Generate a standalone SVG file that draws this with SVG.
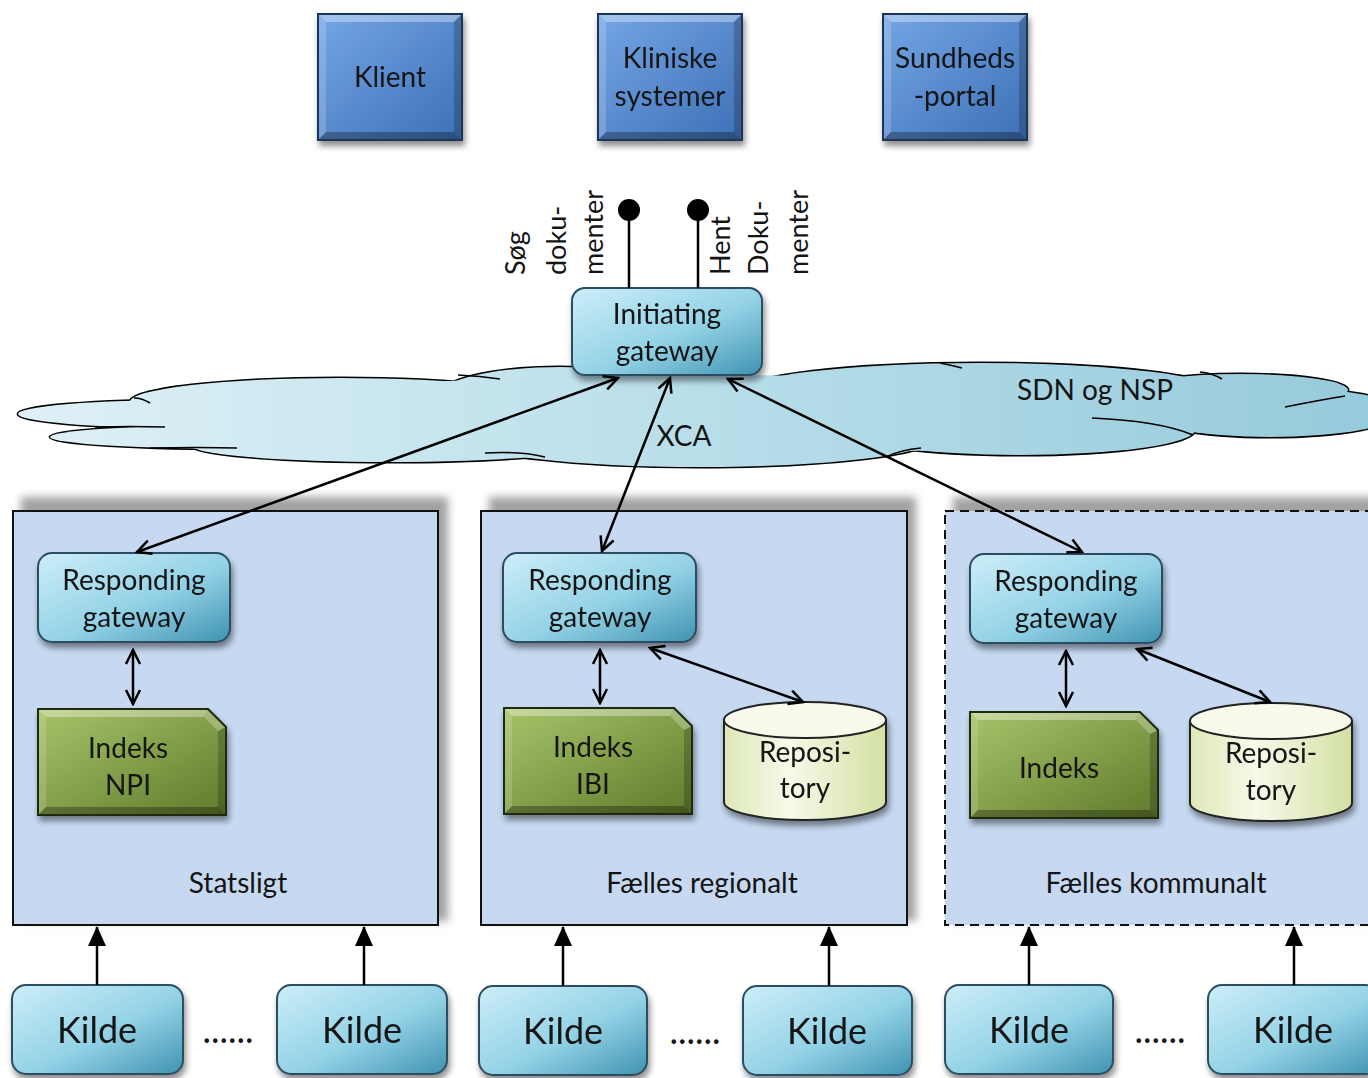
<svg xmlns="http://www.w3.org/2000/svg" xmlns:xlink="http://www.w3.org/1999/xlink" width="1368" height="1078" viewBox="0 0 1368 1078">
  <style>
    .t { font-family: Lato, "Liberation Sans", sans-serif; font-size: 28px; fill: #141414; text-anchor: middle; }
    .tl { font-family: Lato, "Liberation Sans", sans-serif; font-size: 27px; fill: #141414; text-anchor: start; }
    .k { font-family: Lato, "Liberation Sans", sans-serif; font-size: 36px; fill: #141414; text-anchor: middle; }
    .conn { stroke: #000; stroke-width: 2.5; fill: none; }
    .bi { marker-start: url(#open); marker-end: url(#open); }
    .up { marker-end: url(#tri); }
    .gw { fill: url(#gwGrad); stroke: #2b4d62; stroke-width: 2; }
    .box { fill: #c6d9f1; stroke: #111; stroke-width: 2; }
  </style>
  <defs>
    <linearGradient id="blueGrad" x1="0" y1="0" x2="1" y2="1">
      <stop offset="0" stop-color="#74a6e6"/>
      <stop offset="1" stop-color="#3d70b5"/>
    </linearGradient>
    <linearGradient id="gwGrad" x1="0" y1="0" x2="1" y2="1">
      <stop offset="0" stop-color="#cdeef8"/>
      <stop offset="0.55" stop-color="#93d2e6"/>
      <stop offset="1" stop-color="#3f93b1"/>
    </linearGradient>
    <linearGradient id="greenGrad" x1="0" y1="0" x2="1" y2="1">
      <stop offset="0" stop-color="#a8c46a"/>
      <stop offset="1" stop-color="#5f7b2b"/>
    </linearGradient>
    <linearGradient id="repoGrad" x1="0" y1="0" x2="1" y2="0">
      <stop offset="0" stop-color="#dde8b6"/>
      <stop offset="0.4" stop-color="#f6faea"/>
      <stop offset="1" stop-color="#d3e0a2"/>
    </linearGradient>
    <linearGradient id="cloudGrad" gradientUnits="userSpaceOnUse" x1="0" y1="0" x2="1368" y2="0">
      <stop offset="0" stop-color="#e0f1f6"/>
      <stop offset="0.5" stop-color="#b9dfea"/>
      <stop offset="1" stop-color="#97cadb"/>
    </linearGradient>
    <filter id="sh" x="-20%" y="-20%" width="140%" height="150%">
      <feGaussianBlur in="SourceAlpha" stdDeviation="3"/>
      <feOffset dx="2" dy="5"/>
      <feComponentTransfer><feFuncA type="linear" slope="0.45"/></feComponentTransfer>
      <feMerge><feMergeNode/><feMergeNode in="SourceGraphic"/></feMerge>
    </filter>
    <filter id="blur" x="-10%" y="-10%" width="120%" height="120%">
      <feGaussianBlur stdDeviation="4"/>
    </filter>
    <marker id="open" viewBox="0 0 18 18" refX="16" refY="9" markerWidth="18" markerHeight="18" markerUnits="userSpaceOnUse" orient="auto-start-reverse">
      <path d="M2,2 L16,9 L2,16" fill="none" stroke="#000" stroke-width="2.5"/>
    </marker>
    <marker id="tri" viewBox="0 0 20 18" refX="19" refY="9" markerWidth="20" markerHeight="18" markerUnits="userSpaceOnUse" orient="auto">
      <path d="M0,0 L20,9 L0,18 Z" fill="#000"/>
    </marker>

    <!-- bevelled blue application box -->
    <g id="blueBox">
      <rect x="0" y="0" width="144" height="126" fill="url(#blueGrad)"/>
      <path d="M0,0 H144 L136,8 H8 Z" fill="#fff" fill-opacity="0.35"/>
      <path d="M0,0 L8,8 V118 L0,126 Z" fill="#fff" fill-opacity="0.18"/>
      <path d="M144,0 V126 L136,118 V8 Z" fill="#000" fill-opacity="0.2"/>
      <path d="M0,126 H144 L136,118 H8 Z" fill="#000" fill-opacity="0.3"/>
      <rect x="0" y="0" width="144" height="126" fill="none" stroke="#1d3557" stroke-width="2"/>
    </g>

    <!-- bevelled index box with cut corner -->
    <g id="indexBox">
      <path d="M0,0 H170 L188,18 V106 H0 Z" fill="url(#greenGrad)"/>
      <path d="M0,0 H170 L166,8 H8 Z" fill="#fff" fill-opacity="0.35"/>
      <path d="M170,0 L188,18 L180,22 L166,8 Z" fill="#fff" fill-opacity="0.25"/>
      <path d="M0,0 L8,8 V98 L0,106 Z" fill="#fff" fill-opacity="0.15"/>
      <path d="M188,18 V106 L180,98 V22 Z" fill="#000" fill-opacity="0.2"/>
      <path d="M0,106 H188 L180,98 H8 Z" fill="#000" fill-opacity="0.3"/>
      <path d="M0,0 H170 L188,18 V106 H0 Z" fill="none" stroke="#1f2a0c" stroke-width="2"/>
    </g>

    <!-- repository cylinder -->
    <g id="repo">
      <path d="M0,18 V100 A81,18 0 0 0 162,100 V18 Z" fill="url(#repoGrad)" stroke="#222" stroke-width="2"/>
      <ellipse cx="81" cy="18" rx="81" ry="18" fill="#f8fbec" stroke="#222" stroke-width="2"/>
    </g>

    <!-- lobes of the network cloud -->
    <g id="lobes">
      <ellipse cx="340" cy="402" rx="210" ry="24"/>
      <ellipse cx="560" cy="395" rx="120" ry="28"/>
      <ellipse cx="190" cy="414" rx="172" ry="14"/>
      <ellipse cx="250" cy="437" rx="200" ry="12"/>
      <ellipse cx="390" cy="445" rx="200" ry="17"/>
      <ellipse cx="700" cy="440" rx="230" ry="27"/>
      <ellipse cx="1020" cy="430" rx="175" ry="25"/>
      <ellipse cx="1270" cy="412" rx="130" ry="25"/>
      <ellipse cx="1240" cy="390" rx="108" ry="16"/>
      <ellipse cx="980" cy="392" rx="240" ry="29"/>
    </g>
  </defs>

  <rect width="1368" height="1078" fill="#fff"/>

  <!-- network cloud -->
  <g id="cloud">
    <use xlink:href="#lobes" fill="url(#cloudGrad)" stroke="#000" stroke-width="3"/>
    <use xlink:href="#lobes" fill="url(#cloudGrad)" stroke="none"/>
    <ellipse cx="700" cy="415" rx="480" ry="40" fill="url(#cloudGrad)"/>
    <g fill="none" stroke="#000" stroke-width="1.6">
      <path d="M134,398 Q142,398 150,403"/>
      <path d="M95,427 Q130,426 165,427"/>
      <path d="M150,448 Q200,447 237,448"/>
      <path d="M458,375 Q480,376 500,379"/>
      <path d="M485,453 Q520,451 545,457"/>
      <path d="M886,457 Q900,450 921,448"/>
      <path d="M1092,418 Q1160,421 1193,435"/>
      <path d="M1285,407 Q1320,400 1345,396"/>
      <path d="M1200,372 Q1212,373 1222,379"/>
      <path d="M940,363 Q950,365 962,368"/>
    </g>
    <text class="t" x="1095" y="400">SDN og NSP</text>
    <text class="t" x="684" y="446">XCA</text>
  </g>

  <!-- application boxes -->
  <g id="klient" filter="url(#sh)">
    <use xlink:href="#blueBox" x="318" y="14"/>
    <text class="t" x="390" y="87">Klient</text>
  </g>
  <g id="kliniske-systemer" filter="url(#sh)">
    <use xlink:href="#blueBox" x="598" y="14"/>
    <text class="t" x="670" y="68">Kliniske</text>
    <text class="t" x="670" y="106">systemer</text>
  </g>
  <g id="sundhedsportal" filter="url(#sh)">
    <use xlink:href="#blueBox" x="883" y="14"/>
    <text class="t" x="955" y="68">Sundheds</text>
    <text class="t" x="955" y="106">-portal</text>
  </g>

  <!-- interface labels -->
  <g id="interfaces">
    <text class="tl" transform="translate(525,275) rotate(-90)">Søg</text>
    <text class="tl" transform="translate(566,275) rotate(-90)">doku-</text>
    <text class="tl" transform="translate(603,275) rotate(-90)">menter</text>
    <text class="tl" transform="translate(730,275) rotate(-90)">Hent</text>
    <text class="tl" transform="translate(768,275) rotate(-90)">Doku-</text>
    <text class="tl" transform="translate(808,275) rotate(-90)">menter</text>
  </g>

  <!-- initiating gateway -->
  <g id="initiating-gateway" filter="url(#sh)">
    <rect class="gw" x="572" y="288" width="190" height="87" rx="13"/>
    <text class="t" x="667" y="324">Initiating</text>
    <text class="t" x="667" y="361">gateway</text>
  </g>

  <!-- domain containers -->
  <g id="statsligt">
    <rect x="21" y="497" width="427" height="424" fill="#7a7a7a" fill-opacity="0.7" filter="url(#blur)"/>
    <rect class="box" x="13" y="511" width="425" height="414"/>
    <text class="t" x="238" y="893">Statsligt</text>
  </g>
  <g id="faelles-regionalt">
    <rect x="489" y="497" width="427" height="424" fill="#7a7a7a" fill-opacity="0.7" filter="url(#blur)"/>
    <rect class="box" x="481" y="511" width="426" height="414"/>
    <text class="t" x="702" y="893">Fælles regionalt</text>
  </g>
  <g id="faelles-kommunalt">
    <rect x="953" y="497" width="440" height="424" fill="#7a7a7a" fill-opacity="0.7" filter="url(#blur)"/>
    <rect class="box" x="945" y="511" width="440" height="414" stroke-dasharray="9,6"/>
    <text class="t" x="1156" y="893">Fælles kommunalt</text>
  </g>

  <!-- responding gateways -->
  <g id="rg-statsligt" filter="url(#sh)">
    <rect class="gw" x="38" y="553" width="192" height="89" rx="14"/>
    <text class="t" x="134" y="590">Responding</text>
    <text class="t" x="134" y="627">gateway</text>
  </g>
  <g id="rg-regionalt" filter="url(#sh)">
    <rect class="gw" x="503" y="553" width="193" height="89" rx="14"/>
    <text class="t" x="600" y="590">Responding</text>
    <text class="t" x="600" y="627">gateway</text>
  </g>
  <g id="rg-kommunalt" filter="url(#sh)">
    <rect class="gw" x="970" y="554" width="192" height="89" rx="14"/>
    <text class="t" x="1066" y="591">Responding</text>
    <text class="t" x="1066" y="628">gateway</text>
  </g>

  <!-- indexes -->
  <g id="indeks-npi" filter="url(#sh)">
    <use xlink:href="#indexBox" x="38" y="709"/>
    <text class="t" x="128" y="758">Indeks</text>
    <text class="t" x="128" y="795">NPI</text>
  </g>
  <g id="indeks-ibi" filter="url(#sh)">
    <use xlink:href="#indexBox" x="504" y="708"/>
    <text class="t" x="593" y="757">Indeks</text>
    <text class="t" x="593" y="794">IBI</text>
  </g>
  <g id="indeks-kommunalt" filter="url(#sh)">
    <use xlink:href="#indexBox" x="970" y="712"/>
    <text class="t" x="1059" y="778">Indeks</text>
  </g>

  <!-- repositories -->
  <g id="repository-regionalt" filter="url(#sh)">
    <use xlink:href="#repo" x="724" y="702"/>
    <text class="t" x="805" y="762">Reposi-</text>
    <text class="t" x="805" y="798">tory</text>
  </g>
  <g id="repository-kommunalt" filter="url(#sh)">
    <use xlink:href="#repo" x="1190" y="703"/>
    <text class="t" x="1271" y="763">Reposi-</text>
    <text class="t" x="1271" y="800">tory</text>
  </g>

  <!-- sources -->
  <g id="kilde-1" filter="url(#sh)">
    <rect class="gw" x="12" y="985" width="171" height="89" rx="14"/>
    <text class="k" x="97" y="1043">Kilde</text>
  </g>
  <g id="kilde-2" filter="url(#sh)">
    <rect class="gw" x="277" y="985" width="170" height="89" rx="14"/>
    <text class="k" x="362" y="1043">Kilde</text>
  </g>
  <g id="kilde-3" filter="url(#sh)">
    <rect class="gw" x="479" y="986" width="168" height="89" rx="14"/>
    <text class="k" x="563" y="1044">Kilde</text>
  </g>
  <g id="kilde-4" filter="url(#sh)">
    <rect class="gw" x="743" y="986" width="169" height="89" rx="14"/>
    <text class="k" x="827" y="1044">Kilde</text>
  </g>
  <g id="kilde-5" filter="url(#sh)">
    <rect class="gw" x="945" y="985" width="168" height="89" rx="14"/>
    <text class="k" x="1029" y="1043">Kilde</text>
  </g>
  <g id="kilde-6" filter="url(#sh)">
    <rect class="gw" x="1208" y="985" width="172" height="89" rx="14"/>
    <text class="k" x="1293" y="1043">Kilde</text>
  </g>
  <g id="ellipses">
    <text class="k" x="228" y="1043">......</text>
    <text class="k" x="695" y="1044">......</text>
    <text class="k" x="1160" y="1043">......</text>
  </g>

  <!-- connectors -->
  <g id="connectors">
    <line class="conn" x1="629" y1="212" x2="629" y2="288"/>
    <line class="conn" x1="698" y1="212" x2="698" y2="288"/>
    <circle cx="629" cy="210" r="11" fill="#000"/>
    <circle cx="698" cy="210" r="11" fill="#000"/>

    <line class="conn bi" x1="618" y1="378" x2="137" y2="552"/>
    <line class="conn bi" x1="670" y1="378" x2="602" y2="551"/>
    <line class="conn bi" x1="728" y1="379" x2="1082" y2="552"/>

    <line class="conn bi" x1="133" y1="650" x2="133" y2="704"/>
    <line class="conn bi" x1="600" y1="650" x2="600" y2="703"/>
    <line class="conn bi" x1="650" y1="648" x2="803" y2="702"/>
    <line class="conn bi" x1="1066" y1="651" x2="1066" y2="706"/>
    <line class="conn bi" x1="1137" y1="649" x2="1270" y2="702"/>

    <line class="conn up" x1="97" y1="985" x2="97" y2="927"/>
    <line class="conn up" x1="364" y1="985" x2="364" y2="927"/>
    <line class="conn up" x1="563" y1="986" x2="563" y2="927"/>
    <line class="conn up" x1="829" y1="986" x2="829" y2="927"/>
    <line class="conn up" x1="1029" y1="985" x2="1029" y2="927"/>
    <line class="conn up" x1="1294" y1="985" x2="1294" y2="927"/>
  </g>
</svg>
